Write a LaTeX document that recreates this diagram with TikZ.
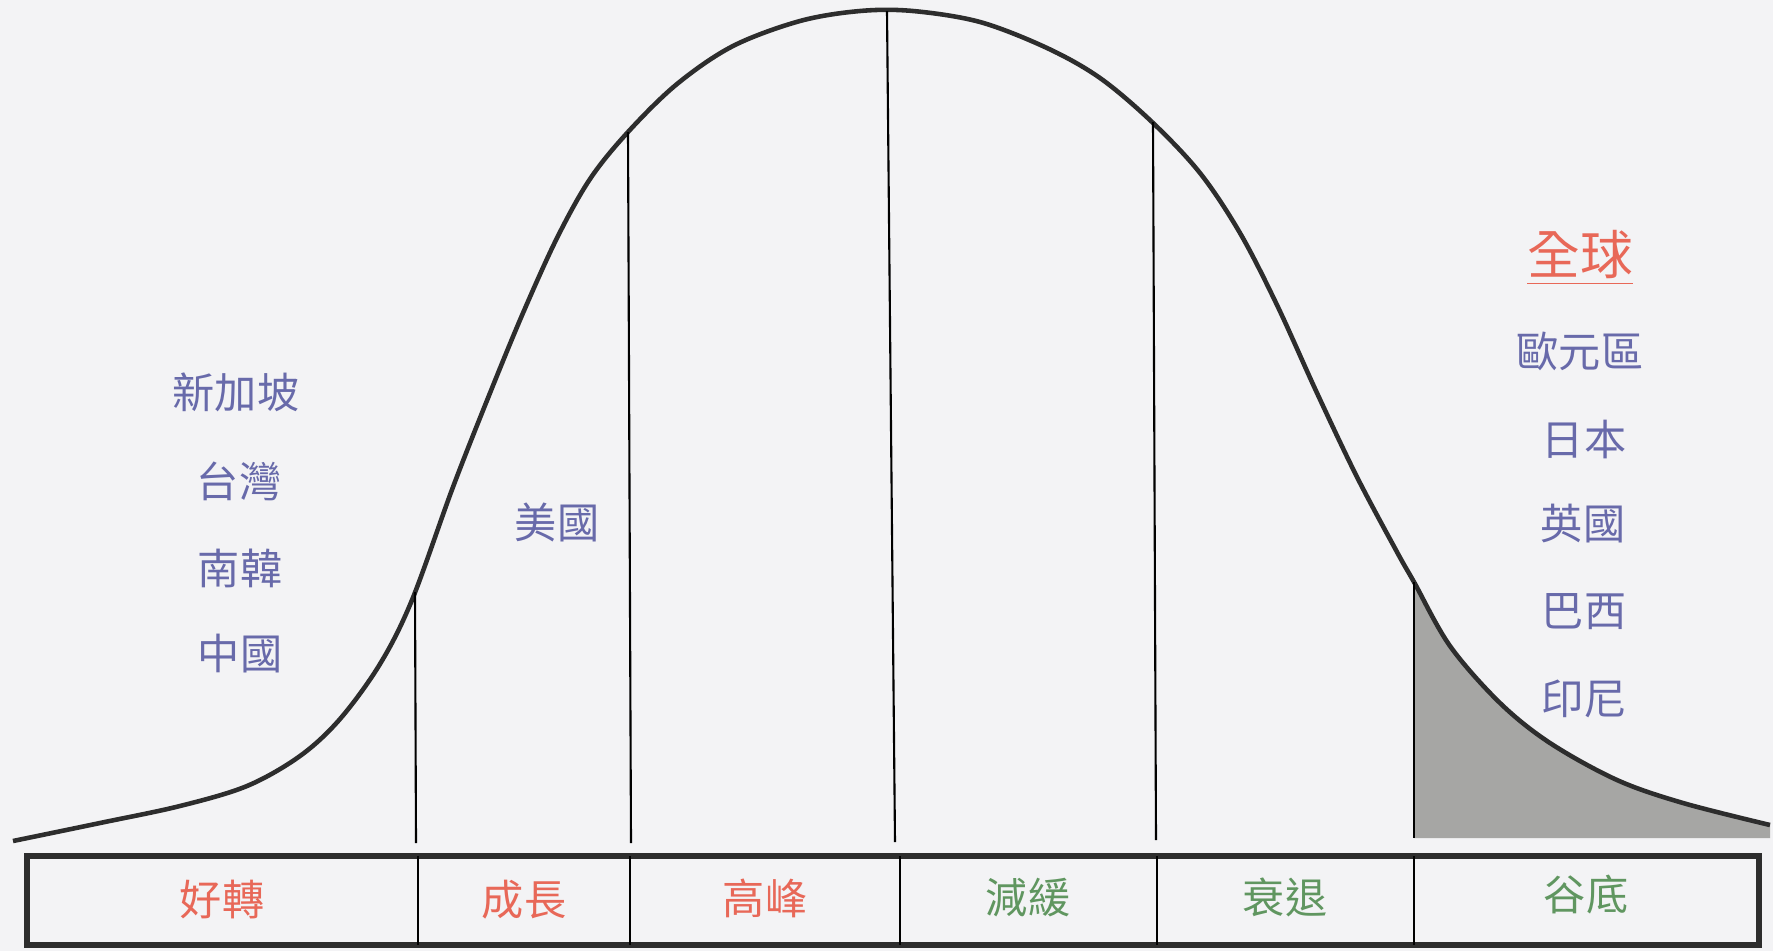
\documentclass[tikz,border=0pt]{standalone}
\usepackage{fontspec}
\usepackage{tikz}
\newfontfamily\cjk{Noto Sans CJK TC}
\definecolor{paper}{RGB}{243,243,245}
\definecolor{phasered}{RGB}{232,104,88}
\definecolor{phasegreen}{RGB}{96,150,96}
\definecolor{nationblue}{RGB}{104,106,170}
\definecolor{troughgray}{RGB}{166,166,164}
\definecolor{inkgray}{RGB}{45,45,45}

\begin{document}
\begin{tikzpicture}[x=0.1mm, y=-0.1mm,
    curve/.style={draw=inkgray, line width=1.3pt, line join=round},
    divider/.style={draw=black, line width=0.6pt},
    panel/.style={draw=inkgray, line width=1.8pt},
    phase/.style={font=\cjk\fontsize{12}{14}\selectfont, inner sep=0pt},
    nation/.style={font=\cjk\fontsize{12}{14}\selectfont, text=nationblue, inner sep=0pt}
]
    \fill[paper] (0,0) rectangle (1773,951);
    \useasboundingbox (0,0) rectangle (1773,951);

    % trough area
    \fill[troughgray] (1414,838) -- plot[smooth, tension=0.55] coordinates {(1414,582) (1450,646)
        (1500,703) (1550,743) (1617,780) (1683,803) (1770,825)} -- (1770,838) -- cycle;

    % cycle curve
    \draw[curve] plot[smooth, tension=0.55] coordinates {(13,841) (100,823) (180,806) (247,786)
        (300,756) (340,719) (380,664) (412,600) (453,487) (490,393) (523,313) (557,238)
        (590,179) (628,132) (677,84) (733,46) (800,21) (860,11) (913,11) (980,22)
        (1047,48) (1100,78) (1152,122) (1200,173) (1240,233) (1277,305) (1317,393) (1357,477)
        (1397,552) (1414,582) (1450,646) (1500,703) (1550,743) (1617,780) (1683,803) (1770,825)};

    % stage lines
    \coordinate (t1) at (415,592);
    \coordinate (t2) at (628,132);
    \coordinate (t3) at (887,11);
    \coordinate (t4) at (1153,122);
    \coordinate (t5) at (1414,582);
    \coordinate (b1) at (416,843);
    \coordinate (b2) at (631,843);
    \coordinate (b3) at (895,842);
    \coordinate (b4) at (1156,840);
    \coordinate (b5) at (1414,838);
    \foreach \i in {1,...,5}
        \draw[divider] (t\i) -- (b\i);

    % stage panel
    \draw[panel] (27,856) rectangle (1759,945);
    \foreach \x in {418,630,900,1157,1414}
        \draw[divider] (\x,856) -- (\x,945);

    \node[phase, text=phasered] (good) at (222,900) {好轉};
    \node[phase, text=phasered] (grow) at (524,900) {成長};
    \node[phase, text=phasered] (peak) at (765,898) {高峰};
    \node[phase, text=phasegreen] (slow) at (1028,898) {減緩};
    \node[phase, text=phasegreen] (decl) at (1285,897) {衰退};
    \node[phase, text=phasegreen] (trough) at (1586,895) {谷底};

    % countries
    \node[nation] (sg) at (236,392) {新加坡};
    \node[nation] (tw) at (239,481) {台灣};
    \node[nation] (kr) at (240,568) {南韓};
    \node[nation] (cn) at (240,654) {中國};
    \node[nation] (us) at (557,522) {美國};

    \node[font=\cjk\fontsize{15}{17}\selectfont, text=phasered, inner sep=0pt] (world) at (1580,258) {\underline{全球}};
    \node[nation] (eu) at (1580,351) {歐元區};
    \node[nation] (jp) at (1584,439) {日本};
    \node[nation] (uk) at (1583,524) {英國};
    \node[nation] (br) at (1584,612) {巴西};
    \node[nation] (id) at (1584,699) {印尼};
\end{tikzpicture}
\end{document}
